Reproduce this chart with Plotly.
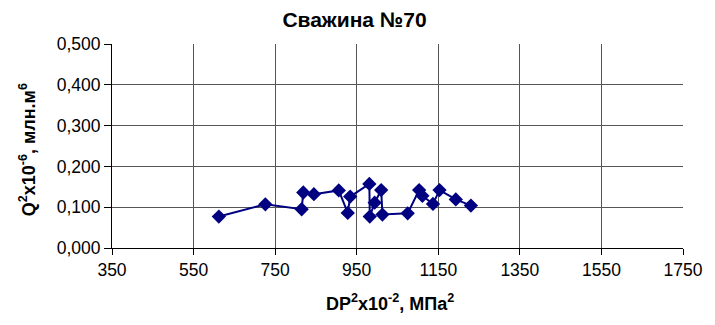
import plotly.graph_objects as go

dp2 = [612, 726, 815, 819, 845, 906, 928, 934, 981, 982, 994, 1010, 1013,
       1075, 1103, 1111, 1137, 1153, 1193, 1230]
q2 = [0.077, 0.107, 0.095, 0.136, 0.132, 0.141, 0.086, 0.126, 0.157, 0.077,
      0.111, 0.142, 0.082, 0.085, 0.142, 0.128, 0.108, 0.142, 0.119, 0.104]
x_ticks = [350, 550, 750, 950, 1150, 1350, 1550, 1750]
y_ticks = [0.0, 0.1, 0.2, 0.3, 0.4, 0.5]

fig = go.Figure()
fig.add_trace(go.Scatter(
    x=dp2, y=q2, mode="lines+markers",
    line=dict(color="#000080", width=2),
    marker=dict(symbol="diamond", size=11, color="#000080"),
    showlegend=False,
))

W, H = 707, 317
font = dict(family="Liberation Sans, Arial, sans-serif", color="black")
fig.update_layout(
    width=W, height=H,
    margin=dict(l=104, r=24, t=36, b=77),
    paper_bgcolor="white", plot_bgcolor="white",
    separators=", ",
    font=dict(size=17, **font),
    title=dict(text="<b>Сважина №70</b>", x=346.5 / W, xanchor="center",
               y=1 - 12 / H, yanchor="middle", font=dict(size=21, **font)),
    annotations=[
        dict(text="<b>DP<sup>2</sup>x10<sup>-2</sup>, МПа<sup>2</sup></b>",
             xref="paper", yref="paper", x=0.486, y=-0.265,
             xanchor="center", yanchor="middle", showarrow=False,
             font=dict(size=18, **font)),
        dict(text="<b>Q<sup>2</sup>x10<sup>-6</sup>, млн.м<sup>6</sup></b>",
             xref="paper", yref="paper", x=-0.1485, y=0.48, textangle=-90,
             xanchor="center", yanchor="middle", showarrow=False,
             font=dict(size=18, **font)),
    ],
)
fig.update_xaxes(
    range=[350, 1750], tickvals=x_ticks, ticktext=[str(v) for v in x_ticks],
    showgrid=True, gridcolor="#555555", gridwidth=1,
    showline=True, linecolor="black", linewidth=1,
    ticks="outside", ticklen=6, tickcolor="black",
    zeroline=False, tickfont=dict(size=17.5, **font),
    ticklabeloverflow="allow",
)
fig.update_yaxes(
    range=[0, 0.5], tickvals=y_ticks, tickformat=".3f", ticksuffix=" ",
    showgrid=True, gridcolor="#555555", gridwidth=1,
    showline=True, linecolor="black", linewidth=1,
    ticks="outside", ticklen=7, tickcolor="black",
    zeroline=False, tickfont=dict(size=17.5, **font),
)
fig.write_html("out.html")
